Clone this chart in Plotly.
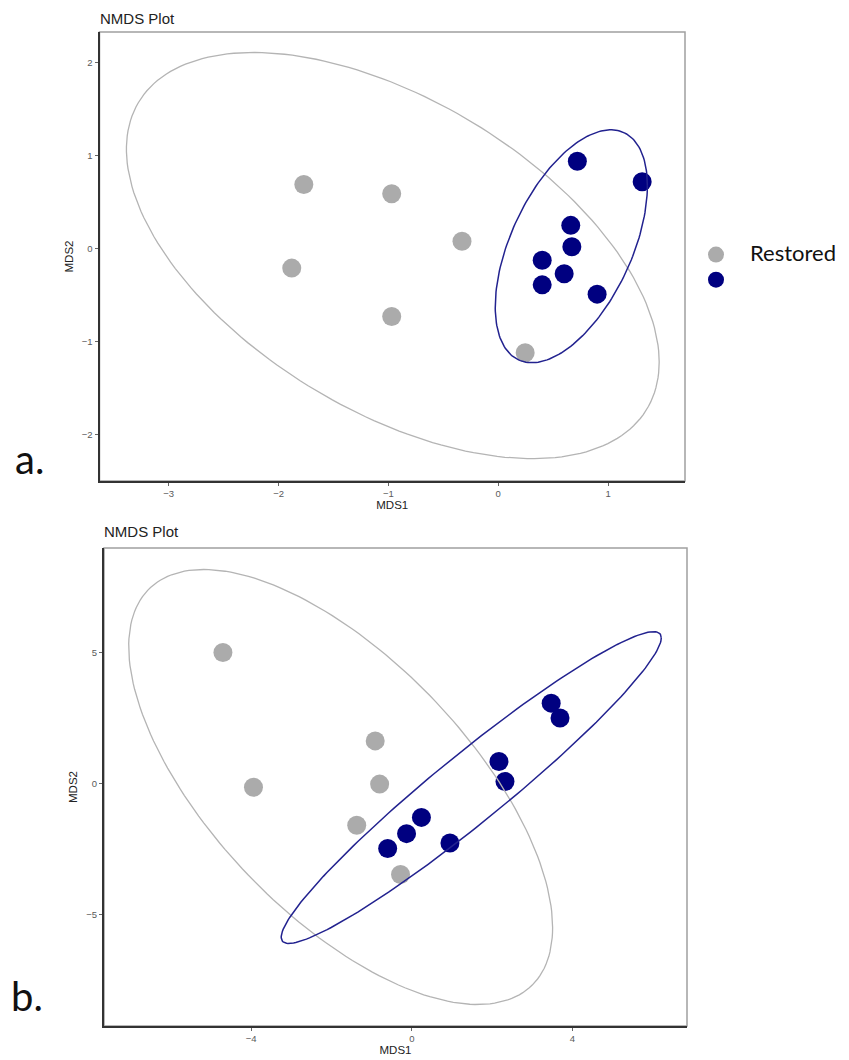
import numpy as np
import plotly.graph_objects as go

# ---------------- data ----------------
# Panel a
a_restored_x = [-1.77, -0.97, -1.88, -0.33, -0.97, 0.245]
a_restored_y = [0.69, 0.59, -0.21, 0.08, -0.73, -1.12]
a_other_x = [0.72, 1.31, 0.66, 0.67, 0.40, 0.60, 0.40, 0.90]
a_other_y = [0.94, 0.72, 0.25, 0.02, -0.125, -0.27, -0.39, -0.49]
# ellipse parameters: centre x, centre y, var x, var y, cov xy
a_restored_ellipse = [-0.96, -0.075, 5.881, 4.774, -2.777]
a_other_ellipse = [0.665, 0.025, 0.4796, 1.5688, 0.45]

# Panel b
b_restored_x = [-4.70, -3.94, -0.91, -0.80, -1.37, -0.28]
b_restored_y = [5.00, -0.14, 1.63, -0.02, -1.59, -3.47]
b_other_x = [3.47, 3.69, 2.17, 2.32, 0.24, -0.13, -0.60, 0.95]
b_other_y = [3.07, 2.50, 0.84, 0.08, -1.29, -1.91, -2.48, -2.27]
b_restored_ellipse = [-1.77, -0.13, 27.83, 68.89, -28.3]
b_other_ellipse = [1.48, -0.15, 22.37, 35.40, 27.0]

a_xticks = [-3, -2, -1, 0, 1]
a_yticks = [-2, -1, 0, 1, 2]
b_xticks = [-4, 0, 4]
b_yticks = [-5, 0, 5]

legend_labels = ["Restored", " "]

GREY = "#ababab"
NAVY = "#000080"
GREY_LINE = "#b4b4b4"
NAVY_LINE = "#22228f"


def ellipse(params, n=200):
    cx, cy, sxx, syy, sxy = params
    L = np.linalg.cholesky(np.array([[sxx, sxy], [sxy, syy]]))
    t = np.linspace(0, 2 * np.pi, n)
    pts = L @ np.vstack([np.cos(t), np.sin(t)])
    return cx + pts[0], cy + pts[1]


fig = go.Figure()

panels = [
    ("x", "y", a_restored_x, a_restored_y, a_other_x, a_other_y,
     a_restored_ellipse, a_other_ellipse, True),
    ("x2", "y2", b_restored_x, b_restored_y, b_other_x, b_other_y,
     b_restored_ellipse, b_other_ellipse, False),
]

for xa, ya, rx, ry, ox, oy, rell, oell, leg in panels:
    fig.add_trace(go.Scatter(x=rx, y=ry, mode="markers", xaxis=xa, yaxis=ya,
                             marker=dict(size=19, color=GREY),
                             name="<span style='font-size:22px'>%s</span>" % legend_labels[0],
                             showlegend=leg))
    fig.add_trace(go.Scatter(x=ox, y=oy, mode="markers", xaxis=xa, yaxis=ya,
                             marker=dict(size=19, color=NAVY),
                             name=legend_labels[1], showlegend=leg))
    ex, ey = ellipse(rell)
    fig.add_trace(go.Scatter(x=ex, y=ey, mode="lines", xaxis=xa, yaxis=ya,
                             line=dict(color=GREY_LINE, width=1.3),
                             showlegend=False, hoverinfo="skip"))
    ex, ey = ellipse(oell)
    fig.add_trace(go.Scatter(x=ex, y=ey, mode="lines", xaxis=xa, yaxis=ya,
                             line=dict(color=NAVY_LINE, width=1.5),
                             showlegend=False, hoverinfo="skip"))

# page has an 8px body margin; figure is sized so it fills the 849x1060 window
OFF = 8
W, H = 849 - OFF, 1060 - OFF


def px(v):
    return (v - OFF) / W


def py(v):
    return 1 - (v - OFF) / H


axis_common = dict(showline=True, linecolor="#333333", linewidth=2,
                   ticks="outside", ticklen=3, tickwidth=1, tickcolor="#666666",
                   tickfont=dict(family="Liberation Sans", size=9.5, color="#5a5a5a"),
                   showgrid=False, zeroline=False,
                   title_font=dict(family="Liberation Sans", size=11.5, color="#222222"))

fig.update_layout(
    width=W, height=H,
    margin=dict(l=0, r=0, t=0, b=0),
    plot_bgcolor="white", paper_bgcolor="white",
    xaxis=dict(domain=[px(99.5), px(685)], anchor="y", range=[-3.63, 1.70],
               tickvals=a_xticks, title=dict(text="MDS1", standoff=3), **axis_common),
    yaxis=dict(domain=[py(481), py(32)], anchor="x", range=[-2.50, 2.33],
               tickvals=a_yticks, title=dict(text="MDS2", standoff=6), **axis_common),
    xaxis2=dict(domain=[px(104), px(687)], anchor="y2", range=[-7.66, 6.85],
                tickvals=b_xticks, title=dict(text="MDS1", standoff=3), **axis_common),
    yaxis2=dict(domain=[py(1026), py(548)], anchor="x2", range=[-9.25, 8.99],
                tickvals=b_yticks, title=dict(text="MDS2", standoff=6), **axis_common),
    legend=dict(x=px(682), y=py(237), xanchor="left", yanchor="top",
                font=dict(family="Lato", size=17, color="#111111"),
                itemwidth=58, bgcolor="rgba(0,0,0,0)", tracegroupgap=0),
    shapes=[
        dict(type="rect", xref="x domain", yref="y domain", x0=0, x1=1, y0=0, y1=1,
             line=dict(color="#a0a0a0", width=1.5), layer="below"),
        dict(type="rect", xref="x2 domain", yref="y2 domain", x0=0, x1=1, y0=0, y1=1,
             line=dict(color="#a0a0a0", width=1.5), layer="below"),
    ],
    annotations=[
        dict(text="NMDS Plot", xref="paper", yref="paper", x=px(99), y=py(9),
             xanchor="left", yanchor="top", showarrow=False, borderpad=0,
             font=dict(family="Liberation Sans", size=15, color="#222222")),
        dict(text="NMDS Plot", xref="paper", yref="paper", x=px(102), y=py(531),
             xanchor="left", yanchor="middle", showarrow=False,
             font=dict(family="Liberation Sans", size=15, color="#222222")),
        dict(text="a.", xref="paper", yref="paper", x=px(13), y=py(459),
             xanchor="left", yanchor="middle", showarrow=False,
             font=dict(family="Lato", size=40, color="#111111")),
        dict(text="b.", xref="paper", yref="paper", x=px(9), y=py(996),
             xanchor="left", yanchor="middle", showarrow=False,
             font=dict(family="Lato", size=40, color="#111111")),
    ],
)

fig.write_html("out.html")
